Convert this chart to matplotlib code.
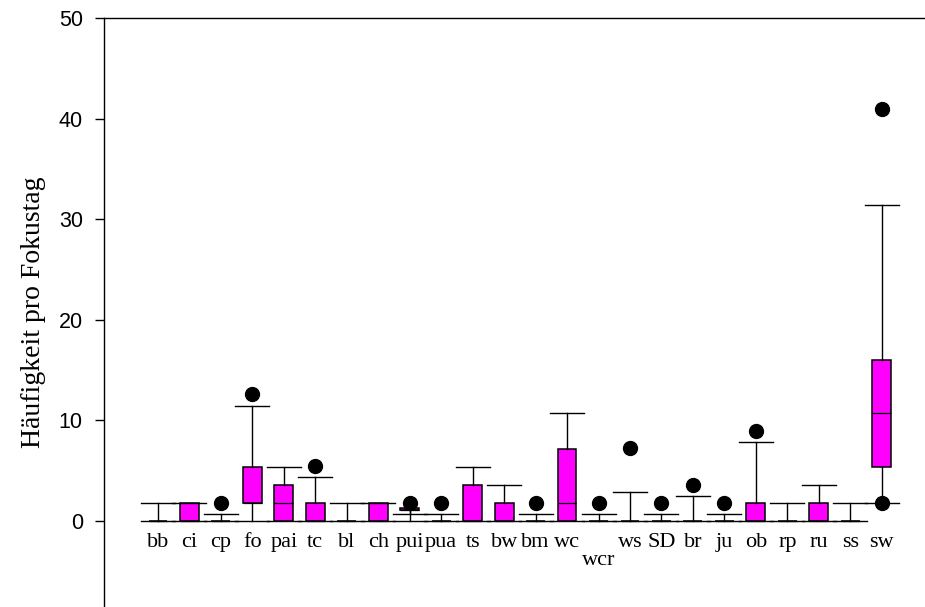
import matplotlib
matplotlib.use('Agg')
import matplotlib.pyplot as plt

# Species codes along the x axis
categories = ['bb', 'ci', 'cp', 'fo', 'pai', 'tc', 'bl', 'ch', 'pui', 'pua', 'ts', 'bw',
              'bm', 'wc', 'wcr', 'ws', 'SD', 'br', 'ju', 'ob', 'rp', 'ru', 'ss', 'sw']

# Box plot statistics per species (counts per focus day)
whisker_low = [0, 0, 0, 0, 0, 0, 0, 0, 0, 0, 0, 0,
               0, 0, 0, 0, 0, 0, 0, 0, 0, 0, 0, 1.8]
quart_low = [0, 0, 0, 1.8, 0, 0, 0, 0, 1.05, 0, 0, 0,
             0, 0, 0, 0, 0, 0, 0, 0, 0, 0, 0, 5.3]
medians = [0, 0, 0, 1.8, 1.8, 0, 0, 0, 1.05, 0, 0, 0,
           0, 1.8, 0, 0, 0, 0, 0, 0, 0, 0, 0, 10.7]
quart_high = [0, 1.8, 0, 5.35, 3.6, 1.8, 0, 1.8, 1.25, 0, 3.6, 1.8,
              0, 7.15, 0, 0, 0, 0, 0, 1.8, 0, 1.8, 0, 16.0]
whisker_high = [1.8, 1.8, 0.7, 11.4, 5.35, 4.3, 1.8, 1.8, 0.7, 0.7, 5.35, 3.6,
                0.7, 10.7, 0.7, 2.85, 0.7, 2.5, 0.7, 7.85, 1.8, 3.55, 1.8, 31.4]
outliers = [[], [], [1.8], [12.6], [], [5.4], [], [], [1.8], [1.8], [], [],
            [1.8], [], [1.8], [7.2], [1.8], [3.6], [1.8], [8.95], [], [], [], [1.8, 41.0]]

# labels pushed down a line so they don't collide with neighbours
lowered = {'wcr'}

serif = ['Liberation Serif', 'DejaVu Serif']
sans = ['Liberation Sans', 'DejaVu Sans']

stats = []
for i, name in enumerate(categories):
    stats.append({'label': name, 'whislo': whisker_low[i], 'q1': quart_low[i],
                  'med': medians[i], 'q3': quart_high[i], 'whishi': whisker_high[i],
                  'fliers': outliers[i]})

positions = list(range(1, len(categories) + 1))

fig = plt.figure(figsize=(9.25, 6.07), dpi=100)
ax = fig.add_axes([104 / 925, 0.0, 821 / 925, 1 - 18.3 / 607])

ax.bxp(stats, positions=positions, widths=0.6, capwidths=1.08,
       patch_artist=True, manage_ticks=False,
       boxprops=dict(facecolor='#ff00ff', edgecolor='black', linewidth=1.1),
       whiskerprops=dict(color='black', linewidth=1.0),
       capprops=dict(color='black', linewidth=1.0),
       medianprops=dict(color='black', linewidth=0.9),
       flierprops=dict(marker='o', markerfacecolor='black', markeredgecolor='black',
                       markersize=10, linestyle='none'))

ax.set_xlim(-0.716, 25.376)
ax.set_ylim(-8.59, 50)

# category names sit just under the zero line
for pos, name in zip(positions, categories):
    y = -4.41 if name in lowered else -2.59
    ax.text(pos, y, name, ha='center', va='baseline', fontsize=16, family=serif)

ax.set_xticks([])
ax.set_yticks([0, 10, 20, 30, 40, 50])
ax.tick_params(axis='y', direction='out', length=6.3, width=1.0, pad=9, labelsize=15.5)
for lab in ax.get_yticklabels():
    lab.set_family(sans)

ax.spines['right'].set_visible(False)
ax.spines['bottom'].set_visible(False)
ax.spines['left'].set_linewidth(1.0)
ax.spines['top'].set_linewidth(1.0)

ax.set_ylabel('Häufigkeit pro Fokustag', fontsize=20, family=serif)
ax.yaxis.set_label_coords(-0.0706, 0.5)

fig.savefig('out.png', dpi=100)
